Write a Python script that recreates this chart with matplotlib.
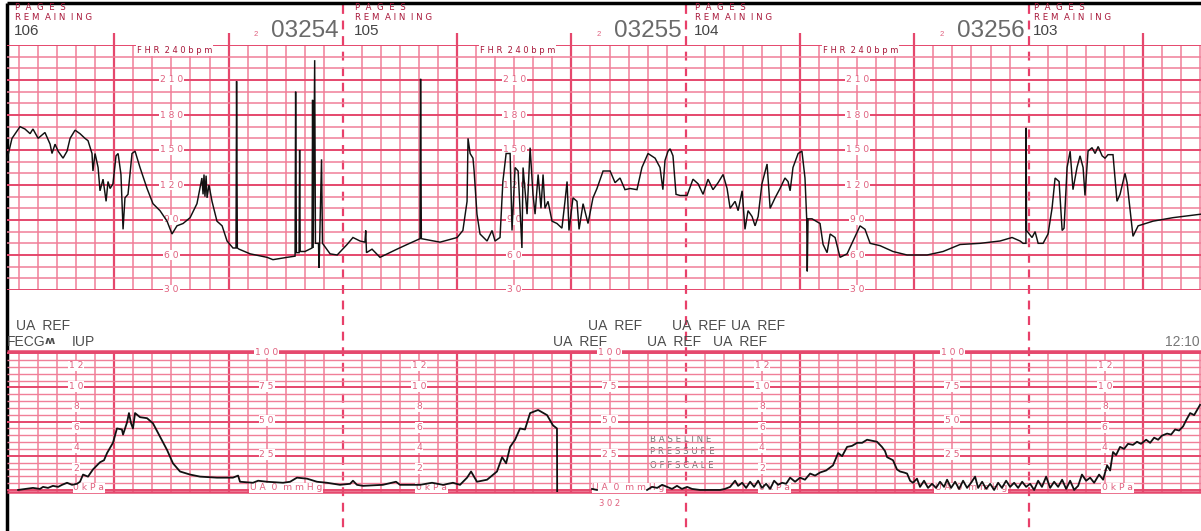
import numpy as np
import matplotlib
matplotlib.use("Agg")
import matplotlib.pyplot as plt

# ---------------- data (time in seconds from chart origin) ----------------
fhr_time_s = [3.7, 6.3, 10.5, 13.1, 15.8, 17.3, 20.0, 23.6, 26.3, 27.3, 28.9, 30.5, 33.1, 35.2, 36.8,
              39.4, 42.0, 44.6, 46.2, 48.3, 48.8, 49.9, 51.5, 52.5, 54.1, 55.7, 56.7, 57.8, 59.3, 60.9,
              62.0, 63.5, 64.6, 65.6, 67.2, 69.3, 70.9, 73.5, 77.2, 80.3, 84.0, 87.7, 90.3, 92.9, 96.1,
              99.8, 103.4, 106.0, 106.6, 107.1, 107.6, 108.2, 108.7, 109.7, 111.3, 113.9, 116.6, 119.2,
              122.3, 123.9, 124.2, 124.6, 125.5, 131.3, 140.2, 143.3, 150.7, 154.9, 155.2, 155.6, 157.0,
              157.3, 157.6, 160.1, 163.8, 164.1, 164.4, 165.2, 165.6, 167.2, 167.5, 168.8, 169.3, 173.3,
              177.0, 182.2, 185.3, 189.0, 191.6, 192.0, 192.4, 195.3, 199.5, 208.4, 213.7, 220.5, 220.8,
              221.2, 231.0, 240.0, 243.0, 245.2, 245.7, 246.8, 248.3, 248.9, 250.4, 252.0, 255.7, 258.3,
              259.9, 262.5, 264.0, 265.7, 267.8, 268.8, 270.4, 272.0, 274.0, 274.6, 276.7, 278.3, 279.8,
              280.9, 282.5, 284.0, 285.1, 286.1, 287.7, 289.8, 292.4, 295.0, 296.6, 297.7, 298.7, 300.8,
              302.9, 304.0, 306.1, 308.7, 311.3, 313.4, 316.6, 320.3, 322.9, 325.5, 328.1, 330.8, 334.4,
              337.0, 340.2, 343.9, 346.5, 348.0, 349.1, 350.7, 351.8, 353.3, 354.9, 357.0, 360.7, 363.8,
              366.5, 369.1, 371.7, 374.3, 377.0, 379.6, 381.7, 383.3, 385.9, 387.5, 389.6, 391.1, 392.7,
              394.8, 396.4, 398.0, 400.0, 402.7, 404.3, 406.9, 409.5, 412.1, 413.7, 414.8, 416.3, 419.0,
              421.0, 422.6, 423.5, 423.8, 424.2, 426.3, 430.5, 432.1, 434.2, 435.8, 438.4, 441.0, 444.7,
              447.8, 451.5, 454.1, 456.8, 462.0, 468.8, 476.2, 486.7, 495.1, 504.0, 514.5, 525.0, 531.3,
              535.5, 537.1, 538.6, 538.7, 538.9, 541.8, 543.4, 545.0, 547.6, 550.2, 552.3, 553.9, 556.0,
              557.6, 558.6, 560.2, 561.8, 563.3, 565.4, 567.0, 568.6, 569.6, 571.2, 573.3, 574.9, 576.5,
              578.6, 580.1, 581.7, 584.3, 586.4, 588.0, 590.6, 591.7, 593.3, 594.8, 597.5, 605.3, 615.8,
              630.5]
fhr_bpm = [142, 160, 170, 168, 164, 168, 160, 165, 155, 147, 155, 149, 143, 149, 160,
           167, 164, 160, 158, 147, 132, 147, 135, 115, 125, 106, 123, 117, 121, 145,
           147, 129, 82, 109, 112, 147, 149, 135, 117, 104, 98, 89, 78, 85, 87,
           92, 104, 126, 112, 129, 110, 128, 109, 120, 106, 89, 85, 72,
           66, 66, 209, 66, 65, 61, 58, 56, 58, 59, 200, 62, 62,
           150, 63, 63, 66, 193, 66, 227, 70, 70, 49, 142, 70, 61,
           60, 69, 75, 72, 71, 81, 62, 65, 58, 65, 69, 74, 211,
           74, 71, 75, 81, 106, 160, 147, 143, 132, 95, 78, 72, 81,
           72, 75, 123, 147, 147, 81, 135, 132, 66, 135, 95, 152, 112,
           95, 129, 100, 129, 100, 106, 89, 87, 83, 106, 123, 81, 109,
           106, 82, 104, 87, 109, 117, 132, 132, 122, 126, 116, 117, 116,
           135, 147, 143, 135, 116, 141, 149, 151, 145, 112, 111, 111, 125,
           121, 112, 125, 116, 122, 129, 117, 100, 106, 98, 115, 82, 98,
           93, 85, 93, 121, 138, 100, 109, 117, 126, 123, 115, 135, 147,
           149, 126, 91, 46, 91, 91, 87, 69, 62, 78, 75, 58, 61,
           72, 85, 82, 70, 68, 63, 60, 60, 63, 69, 70, 72, 75,
           72, 70, 70, 169, 81, 75, 80, 70, 70, 78, 100, 126, 123,
           81, 83, 135, 149, 116, 135, 145, 135, 111, 149, 152, 147, 153,
           145, 143, 146, 146, 106, 112, 130, 122, 98, 76, 85, 89, 92,
           95]

ua_time_s = [9.5, 17.3, 21.0, 22.6, 25.2, 27.8, 30.5, 32.6, 35.2, 37.8, 40.4, 42.0, 43.6, 46.2, 48.8,
             52.5, 54.6, 56.2, 59.3, 61.4, 64.0, 64.6, 66.7, 67.7, 68.8, 69.8, 70.9, 73.5, 77.2, 80.3,
             84.0, 87.7, 90.8, 94.5, 99.8, 105.0, 113.9, 122.3, 125.0, 126.0, 132.8, 135.5, 140.2, 148.6,
             152.3, 155.9, 161.2, 166.4, 171.7, 178.5, 183.8, 185.3, 187.4, 190.6, 201.0, 207.9, 210.0,
             220.5, 226.8, 232.6, 237.8, 241.5, 245.2, 247.3, 250.4, 255.7, 260.9, 263.6, 265.7, 267.8,
             270.4, 273.0, 275.6, 278.3, 282.5, 287.2, 290.3, 292.4, 292.5, np.nan, 310.8, 313.4, np.nan,
             339.7, 342.3, 345.0, 347.6, 350.2, 352.8, 355.4, 358.0, 360.7, 363.3, 367.5, 378.0, 380.6,
             383.3, 385.9, 387.5, 389.6, 391.7, 393.8, 395.9, 398.0, 400.0, 402.2, 404.3, 406.4, 408.5,
             410.6, 412.7, 414.8, 417.4, 420.0, 422.6, 425.3, 427.9, 430.5, 433.7, 437.3, 440.0, 442.1,
             444.7, 447.3, 450.0, 452.6, 455.2, 457.8, 460.4, 463.0, 464.6, 465.7, 468.8, 470.9, 472.5,
             474.6, 476.2, 477.8, 479.3, 481.4, 483.0, 485.1, 487.2, 489.3, 491.4, 493.5, 495.6, 497.2,
             499.3, 501.4, 503.5, 505.6, 507.7, 509.8, 511.9, 513.5, 515.6, 517.7, 519.8, 521.9, 524.0,
             526.0, 528.2, 530.3, 532.4, 534.5, 536.6, 538.7, 540.8, 542.9, 545.0, 547.0, 549.2, 551.3,
             553.4, 555.5, 557.6, 559.7, 561.8, 563.9, 566.0, 568.0, 570.2, 572.3, 574.4, 577.0, 579.1,
             581.2, 582.8, 584.3, 585.9, 588.0, 590.1, 592.2, 594.8, 596.9, 599.0, 601.7, 603.8, 605.9,
             608.0, 610.0, 612.7, 614.8, 616.9, 619.0, 621.1, 622.7, 624.8, 626.9, 630.0]
ua_kpa = [0.0, 0.2, 0.1, 0.3, 0.2, 0.4, 0.3, 0.5, 0.7, 0.5, 0.6, 0.8, 1.5, 1.3, 2.0,
          2.7, 2.9, 3.6, 4.6, 6.0, 5.9, 5.4, 6.6, 7.5, 6.5, 6.0, 7.5, 7.1, 7.0, 6.5,
          5.2, 3.9, 2.6, 1.8, 1.5, 1.3, 1.2, 1.2, 1.4, 0.8, 0.7, 0.9, 0.8, 0.7,
          0.8, 1.2, 1.1, 0.8, 0.7, 0.5, 0.6, 0.9, 0.5, 0.4, 0.5, 0.8, 0.5,
          0.5, 0.7, 0.5, 0.7, 0.5, 1.2, 1.8, 0.8, 1.0, 1.8, 3.2, 2.6, 4.2,
          4.9, 6.0, 5.9, 7.5, 7.8, 7.3, 6.3, 6.0, -0.2, np.nan, 0.1, 0.0, np.nan,
          0.0, 0.3, 0.2, 0.5, 0.3, 0.1, 0.4, 0.1, 0.3, 0.1, 0.0, 0.0, 0.1,
          0.3, 0.9, 0.4, 0.7, 0.2, 0.8, 0.3, 0.9, 0.2, 0.6, 0.1, 0.9, 0.5,
          0.7, 0.6, 1.2, 0.8, 1.2, 1.0, 1.6, 1.4, 1.7, 1.9, 2.4, 3.6, 3.3,
          4.2, 4.3, 4.6, 4.6, 4.9, 4.8, 4.7, 4.2, 3.8, 3.2, 2.9, 2.0, 1.8,
          1.7, 1.6, 0.9, 0.7, 1.1, 0.3, 0.9, 0.2, 0.6, 0.2, 0.8, 0.3, 1.0,
          0.2, 0.8, 0.1, 0.9, 0.2, 0.7, 1.3, 0.2, 0.8, 0.1, 0.6, 0.0, 0.7,
          0.2, 0.9, 0.3, 0.7, 0.2, 0.8, 0.3, 0.6, 0.0, 0.9, 0.3, 1.3, 0.2,
          0.8, 0.3, 1.0, 0.1, 0.9, 0.0, 0.4, 1.5, 0.9, 1.2, 0.7, 1.5, 1.0,
          2.4, 1.9, 3.7, 3.4, 4.2, 4.0, 4.5, 4.4, 4.7, 4.5, 4.9, 4.6, 5.1,
          4.9, 5.3, 5.5, 5.4, 5.9, 5.8, 6.2, 6.8, 7.5, 7.3, 8.3]

fhr_tick_values = [210, 180, 150, 120, 90, 60, 30]
fhr_label_cols_s = [90, 270, 450]
kpa_tick_values = [12, 10, 8, 6, 4, 2]
kpa_label_cols_s = [40, 220, 400, 580]
mmhg_tick_values = [100, 75, 50, 25]
mmhg_label_cols_s = [140, 320, 500]
page_breaks_s = [180, 360, 540]
page_ids = ["03254", "03255", "03256"]
pages_left = ["106", "105", "104", "103"]

# ---------------- layout ----------------
W, H = 1201, 531
T_END = 630.5
PX_PER_S = W / T_END

GRID_MINOR = "#f07f98"
GRID_MAJOR = "#e5486d"
LABEL_PINK = "#e0607e"
DARK_RED = "#a8183a"

plt.rcParams['font.family'] = ['Liberation Sans', 'DejaVu Sans']

fig = plt.figure(figsize=(W / 100, H / 100), dpi=100)
fig.patch.set_facecolor("white")

ov = fig.add_axes([0, 0, 1, 1], zorder=0)
ov.set_xlim(0, W)
ov.set_ylim(H, 0)
ov.axis("off")

ax_fhr = fig.add_axes([0, 1 - 290 / H, 1, 245 / H], zorder=1)
ax_ua = fig.add_axes([0, 1 - 492 / H, 1, 141 / H], zorder=1)
UA_LO = -0.2
ax_fhr.set_ylim(30, 240)
ax_ua.set_ylim(UA_LO, UA_LO + 141 / 10.25)
x_left = 7 / PX_PER_S
for ax in (ax_fhr, ax_ua):
    ax.set_xlim(0, T_END)
    ax.axis("off")
    ax.patch.set_visible(False)
    for s in range(10, 631, 10):
        if s in page_breaks_s:
            continue
        major = s % 60 == 0
        ax.axvline(s, color=GRID_MAJOR if major else GRID_MINOR,
                   lw=1.6 if major else 1.1, zorder=1)

# FHR horizontal grid
for v in range(30, 241, 10):
    major = v % 30 == 0
    ax_fhr.hlines(v, x_left, T_END, color=GRID_MAJOR if major else GRID_MINOR,
                  lw=1.4 if major else 1.1, zorder=1)
# major minute lines stick out above the FHR grid
for s in range(60, 631, 60):
    if s not in page_breaks_s:
        ax_fhr.vlines(s, 240, 250.5, color=GRID_MAJOR, lw=1.6, clip_on=False)

# UA horizontal grid (every 5 mmHg)
for mm in range(0, 101, 5):
    major = mm % 25 == 0
    ax_ua.hlines(mm / 7.5, x_left, T_END, color=GRID_MAJOR if major else GRID_MINOR,
                 lw=1.4 if major else 1.0, zorder=1)
for yv in ax_ua.get_ylim():
    ax_ua.hlines(yv, x_left, T_END, color=GRID_MAJOR, lw=1.8, zorder=1, clip_on=False)

# scale labels inside the grids
box = dict(facecolor="white", edgecolor="none", pad=0.6)
lab = dict(fontsize=6.6, color=LABEL_PINK, bbox=box, zorder=3, family="DejaVu Sans", va="center")
for c in fhr_label_cols_s:
    for v in fhr_tick_values:
        ax_fhr.text(c, v, " ".join(str(v)), ha="center", **lab)
    ax_fhr.text(c - 18, 235, "F H R  2 4 0 b p m", ha="left", va="center", fontsize=6.0,
                color=DARK_RED, bbox=box, zorder=3, family="DejaVu Sans")
for c in kpa_label_cols_s:
    for v in kpa_tick_values:
        ax_ua.text(c, v + 0.1, " ".join(str(v)), ha="center", **lab)
    ax_ua.text(c - 1.5, 0.2, "0 k P a", ha="left", **lab)
for c in mmhg_label_cols_s:
    for v in mmhg_tick_values:
        ax_ua.text(c, v / 7.5 + 0.1, " ".join(str(v)), ha="center", **lab)
    ax_ua.text(c + 10, 0.2, "U A  0  m m H g", ha="center", **lab)

# traces
ax_fhr.plot(fhr_time_s, fhr_bpm, color="#111111", lw=1.05, zorder=5, solid_joinstyle="miter")
ax_ua.plot(ua_time_s, ua_kpa, color="#111111", lw=1.3, zorder=5)

# page break dashed lines
for s in page_breaks_s:
    ov.vlines(s * PX_PER_S, 5, H, color="#e8406a", lw=1.6, linestyles=(0, (4, 3)))

# border
ov.plot([7, W], [3, 3], color="black", lw=2.5, solid_capstyle="butt")
ov.plot([7, 7], [3, H], color="black", lw=2.5, solid_capstyle="butt")

# page headers
hdr_x = [15, 355, 695, 1034]
for x, n in zip(hdr_x, pages_left):
    ov.text(x, 8, "P  A  G  E  S", fontsize=6.2, color=DARK_RED, va="center", ha="left",
            family="DejaVu Sans")
    ov.text(x, 17, "R E M  A I N  I N G", fontsize=6.2, color=DARK_RED, va="center", ha="left",
            family="DejaVu Sans")
    ov.text(x - 1, 31, n, fontsize=11, color="#444444", va="center", ha="left")
for s, pid in zip(page_breaks_s, page_ids):
    xb = s * PX_PER_S
    ov.text(xb - 4, 31, pid, fontsize=17.5, color="#6a6a6a", va="center", ha="right")
    ov.text(xb - 87, 35, "2", fontsize=5.5, color=LABEL_PINK, va="center", ha="center")

# UA annotations
grey = "#4d4d4d"
ov.text(16, 326, "UA  REF", fontsize=10, color=grey, va="center", ha="left")
ov.text(7, 342, "FECG", fontsize=10, color=grey, va="center", ha="left")
ov.text(45, 341, "ʍ", fontsize=8, color=grey, va="center", ha="left", fontweight="bold",
        family=["DejaVu Sans"])
ov.text(72, 342, "IUP", fontsize=10, color=grey, va="center", ha="left")
for x in [588, 672, 731]:
    ov.text(x, 326, "UA  REF", fontsize=10, color=grey, va="center", ha="left")
for x in [553, 647, 713]:
    ov.text(x, 342, "UA  REF", fontsize=10, color=grey, va="center", ha="left")
ov.text(1200, 342, "12:10", fontsize=10, color="#777777", va="center", ha="right")

for y, t in zip([439, 452, 466], ["B A S E L I N E", "P R E S S U R E", "O F F S C A L E"]):
    ov.text(650, y, t, fontsize=6.2, color="#707070", va="center", ha="left", family="DejaVu Sans")
ov.text(610, 503, "3 0 2", fontsize=6, color=LABEL_PINK, va="center", ha="center",
        family="DejaVu Sans")

fig.savefig("out.png", dpi=100, facecolor="white")
